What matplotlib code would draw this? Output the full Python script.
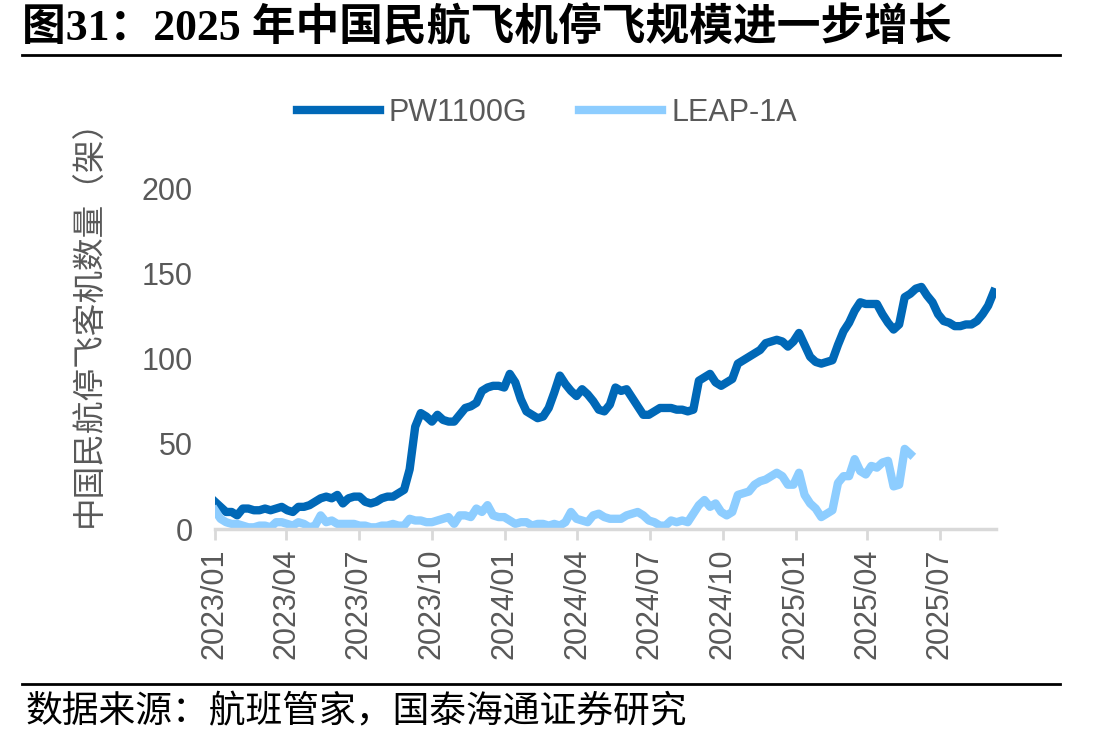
import matplotlib
matplotlib.use('Agg')
import matplotlib.pyplot as plt
import matplotlib.dates as mdates
from matplotlib.lines import Line2D
import pandas as pd

plt.rcParams['font.family'] = ['Liberation Sans', 'Noto Sans CJK SC', 'DejaVu Sans']

title = '图31：2025 年中国民航飞机停飞规模进一步增长'
source = '数据来源：航班管家，国泰海通证券研究'
ylabel = '中国民航停飞客机数量（架）'

# weekly data, starting 2023-01-01
pw1100g = [16, 13, 10, 10, 8, 12, 12, 11, 11, 12, 11, 12, 13, 11, 10, 13, 13, 14, 16, 18,
           19, 18, 20, 15, 18, 19, 19, 16, 15, 16, 18, 19, 19, 21, 23, 35, 60, 68, 66, 63,
           67, 64, 63, 63, 67, 71, 72, 74, 81, 83, 84, 84, 83, 91, 86, 76, 69, 67, 65, 66,
           71, 80, 90, 85, 81, 78, 82, 79, 75, 70, 69, 73, 83, 81, 82, 77, 72, 67, 67, 69,
           71, 71, 71, 70, 70, 69, 70, 87, 89, 91, 86, 84, 86, 88, 97, 99, 101, 103, 105, 109,
           110, 111, 110, 107, 110, 115, 108, 101, 98, 97, 98, 99, 108, 116, 121, 128, 133, 132, 132, 132,
           126, 121, 117, 120, 136, 138, 141, 142, 137, 133, 126, 122, 121, 119, 119, 120, 120, 122, 126, 131,
           139]
leap1a = [11, 6, 4, 3, 3, 2, 1, 1, 2, 2, 1, 4, 4, 3, 2, 4, 3, 1, 2, 8,
          4, 5, 3, 3, 3, 3, 2, 2, 1, 1, 2, 2, 3, 2, 2, 6, 5, 5, 4, 4,
          5, 6, 7, 3, 8, 8, 7, 12, 10, 14, 8, 7, 7, 5, 3, 4, 4, 2, 3, 3,
          2, 3, 2, 4, 10, 6, 5, 4, 8, 9, 7, 6, 6, 6, 8, 9, 10, 8, 5, 4,
          2, 2, 5, 4, 5, 4, 9, 14, 17, 13, 15, 10, 8, 10, 20, 21, 22, 26, 28, 29,
          31, 33, 31, 26, 26, 33, 20, 15, 12, 7, 9, 11, 27, 31, 31, 41, 34, 32, 37, 36,
          39, 40, 25, 26, 47, 44]

pw_dates = pd.date_range('2023-01-01', periods=len(pw1100g), freq='7D')
leap_dates = pd.date_range('2023-01-01', periods=len(leap1a), freq='7D')

fig = plt.figure(figsize=(11.08, 7.32), dpi=100)
ax = fig.add_axes([0.194, 0.2773, 0.705, 0.4658])

ax.plot(pw_dates, pw1100g, color='#0068B7', lw=6, label='PW1100G', solid_joinstyle='round')
ax.plot(leap_dates, leap1a, color='#8DCDFF', lw=6, label='LEAP-1A', solid_joinstyle='round')

ax.set_ylim(0, 200)
ax.set_yticks([0, 50, 100, 150, 200])
ax.set_xlim(pd.Timestamp('2023-01-01'), pd.Timestamp('2025-09-10'))
ax.xaxis.set_major_locator(mdates.MonthLocator(bymonth=[1, 4, 7, 10]))
ax.xaxis.set_major_formatter(mdates.DateFormatter('%Y/%m'))

for s in ['top', 'right', 'left']:
    ax.spines[s].set_visible(False)
ax.spines['bottom'].set_color('#D9D9D9')
ax.spines['bottom'].set_linewidth(2.5)
ax.tick_params(axis='x', colors='#D9D9D9', width=2, length=8, labelcolor='#595959',
               labelsize=22, rotation=90, pad=6)
ax.tick_params(axis='y', length=0, labelcolor='#595959', labelsize=22, pad=16)
ax.set_ylabel(ylabel, fontsize=23.5, color='#595959')
ax.yaxis.set_label_coords(-0.14, 0.628)

leg = ax.legend(loc='center', bbox_to_anchor=(0.425, 1.22), ncol=2, frameon=False,
                fontsize=22, handlelength=2.7, handletextpad=0.3, columnspacing=1.7)
for t in leg.get_texts():
    t.set_color('#595959')

fig.text(0.02, 0.962, title, fontsize=31.5, fontweight='bold', va='center', ha='left',
         family=['Liberation Serif', 'Noto Sans CJK SC'])
fig.add_artist(Line2D([0.02, 0.957], [0.925, 0.925], color='black', lw=2))
fig.add_artist(Line2D([0.02, 0.957], [0.0656, 0.0656], color='black', lw=2))
fig.text(0.023, 0.027, source, fontsize=26.5, va='center', ha='left',
         family=['Noto Sans CJK SC'])

fig.savefig('out.png', dpi=100)
